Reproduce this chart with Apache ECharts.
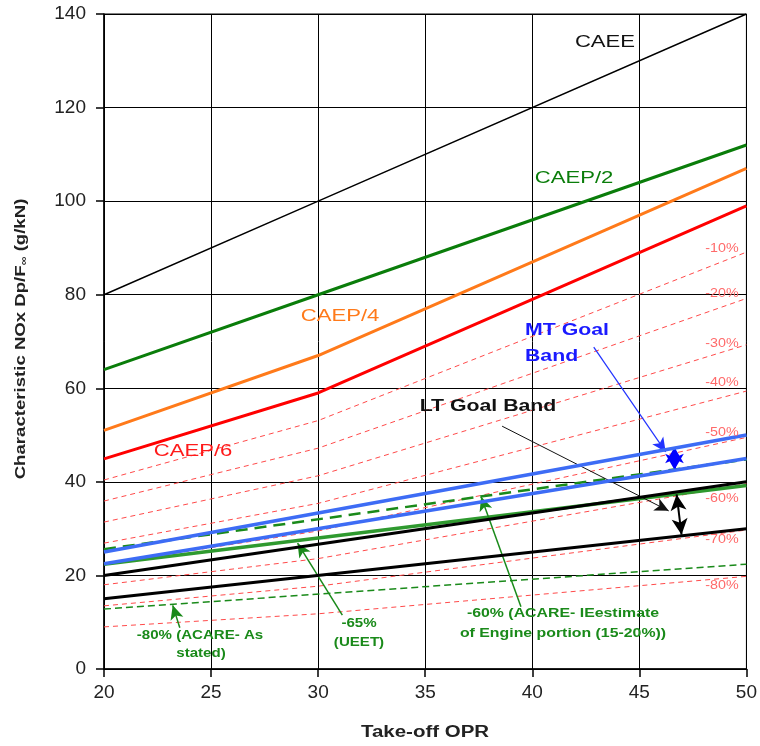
<!DOCTYPE html>
<html>
<head>
<meta charset="utf-8">
<script src="https://cdn.jsdelivr.net/npm/echarts@6/dist/echarts.min.js"></script>
<style>html,body{margin:0;padding:0;background:#fff;}#c{width:760px;height:746px;}</style>
</head>
<body>
<div id="c"></div>
<script>
// ---- data ----
const oprKnots = [20, 30, 50];
const oprEnds = [20, 50];
const xTicks = [20, 25, 30, 35, 40, 45, 50];
const yTicks = [0, 20, 40, 60, 80, 100, 120, 140];

const caee  = [80, 100, 140];
const caep2 = [64, 80, 112];
const caep4 = [51, 67, 107];
const caep6 = [44.9, 59.0, 99.0];

const reductionNames = ['-10%', '-20%', '-30%', '-40%', '-50%', '-60%', '-70%', '-80%'];
const red10 = [40.4, 53.1, 89.1];
const red20 = [35.9, 47.2, 79.2];
const red30 = [31.4, 41.3, 69.3];
const red40 = [26.9, 35.4, 59.4];
const red50 = [22.4, 29.5, 49.5];
const red60 = [18.0, 23.6, 39.6];
const red70 = [13.5, 17.7, 29.7];
const red80 = [9.0, 11.8, 19.8];

const mtUpper = [25, 50];
const mtLower = [22.5, 45];
const ltUpper = [20, 40];
const ltLower = [15, 30];
const ueet65  = [22.4, 39.2];
const acare60 = [25.6, 44.8];
const acare80 = [12.8, 22.4];

// annotation arrows in data coordinates [x1,y1,x2,y2]
const arrowBlue   = [42.87, 68.8, 46.23, 46.4];
const arrowBlueDbl = [46.64, 47.4, 46.64, 42.6];
const arrowBlack  = [38.59, 51.9, 46.37, 33.8];
const arrowBlackDbl = [46.74, 37.3, 46.97, 28.7];
const arrowG80 = [23.54, 8.8, 23.21, 13.6];
const arrowG65 = [31.13, 11.5, 29.04, 26.9];
const arrowG60 = [39.47, 13.3, 37.61, 36.8];

function pts(xs, ys) { return xs.map((x, i) => [x, ys[i]]); }

const chart = echarts.init(document.getElementById('c'));
const FONT = '"Liberation Sans", Arial, sans-serif';

function lineSeries(name, xs, ys, color, width, type, z) {
  return {
    name, type: 'line', data: pts(xs, ys), symbol: 'none', z: z || 2,
    lineStyle: { color, width, type: type || 'solid' }, silent: true, animation: false
  };
}
function arrowSeries(a, color, width, dbl, size) {
  return {
    type: 'line', data: [], z: 10, silent: true, animation: false,
    markLine: {
      silent: true, animation: false,
      symbolSize: size || [9, 14],
      label: { show: false },
      lineStyle: { color, width, type: 'solid' },
      data: [[
        { coord: [a[0], a[1]], symbol: dbl ? 'arrow' : 'none' },
        { coord: [a[2], a[3]], symbol: 'arrow' }
      ]]
    }
  };
}

const redColor = '#ff4a4a';
const redDash = [5, 4];
const reds = [red10, red20, red30, red40, red50, red60, red70, red80];

const series = [];
reds.forEach((r, i) => series.push(lineSeries(reductionNames[i], oprKnots, r, redColor, 1, redDash, 1)));
series.push(lineSeries('CAEE', oprKnots, caee, '#000', 1.5, 'solid', 3));
series.push(lineSeries('CAEP/2', oprKnots, caep2, '#0a7d0a', 3, 'solid', 3));
series.push(lineSeries('CAEP/4', oprKnots, caep4, '#ff7a1a', 3, 'solid', 3));
series.push(lineSeries('CAEP/6', oprKnots, caep6, '#ff0000', 3, 'solid', 3));
series.push(lineSeries('-80% ACARE', oprEnds, acare80, '#1a8a1a', 1.5, [7, 4], 3));
series.push(lineSeries('-60% ACARE', oprEnds, acare60, '#1a8a1a', 2.5, [12, 7], 3));
series.push(lineSeries('-65% UEET', oprEnds, ueet65, '#2f9a2f', 3.5, 'solid', 4));
series.push(lineSeries('MT upper', oprEnds, mtUpper, '#3d6cf5', 3.5, 'solid', 5));
series.push(lineSeries('MT lower', oprEnds, mtLower, '#3d6cf5', 3.5, 'solid', 5));
series.push(lineSeries('LT upper', oprEnds, ltUpper, '#000', 3, 'solid', 6));
series.push(lineSeries('LT lower', oprEnds, ltLower, '#000', 3, 'solid', 6));

series.push(arrowSeries(arrowBlue, '#2233ff', 1.2, false, [10, 14]));
series.push(arrowSeries(arrowBlueDbl, '#0000ff', 2, true, [14, 16]));
series.push(arrowSeries(arrowBlack, '#111', 1, false, [10, 14]));
series.push(arrowSeries(arrowBlackDbl, '#000', 2, true, [12, 16]));
series.push(arrowSeries(arrowG80, '#1a8a1a', 1.5, false, [10, 14]));
series.push(arrowSeries(arrowG65, '#1a8a1a', 1.5, false, [10, 14]));
series.push(arrowSeries(arrowG60, '#1a8a1a', 1.5, false, [10, 14]));

const graphics = [];
function txt(t, x, y, color, font, align, sx, rot) {
  graphics.push({ type: 'text', x, y, z: 20, scaleX: sx || 1, rotation: rot || 0,
    style: { text: t, fill: color, font: font + ' ' + FONT, textAlign: align || 'center', textVerticalAlign: 'middle' } });
}
// percentage labels (pixel positions near right edge)
const pctLabelY = [248, 293, 343, 382, 432, 498, 539, 585];
reductionNames.forEach((t, i) => txt(t, 722, pctLabelY[i], '#ff6a6a', '13px', 'center', 1.1));

txt('CAEE', 605, 42, '#111', '17px', 'center', 1.3);
txt('CAEP/2', 574, 178, '#0a7d0a', '17px', 'center', 1.3);
txt('CAEP/4', 340, 316, '#ff7a1a', '17px', 'center', 1.3);
txt('CAEP/6', 193, 451, '#ff1a1a', '17px', 'center', 1.3);
txt('MT Goal', 525, 331, '#1a1aff', 'bold 16px', 'left', 1.33);
txt('Band', 525, 357, '#1a1aff', 'bold 16px', 'left', 1.33);
txt('LT Goal Band', 488, 407, '#111', 'bold 16px', 'center', 1.33);
txt('-80% (ACARE- As', 200, 635, '#1a8a1a', 'bold 13px', 'center', 1.16);
txt('stated)', 201, 653, '#1a8a1a', 'bold 13px', 'center', 1.16);
txt('-65%', 359, 623, '#1a8a1a', 'bold 13px', 'center', 1.16);
txt('(UEET)', 359, 642, '#1a8a1a', 'bold 13px', 'center', 1.16);
txt('-60% (ACARE- IEestimate', 563, 613, '#1a8a1a', 'bold 13px', 'center', 1.22);
txt('of Engine portion (15-20%))', 563, 633, '#1a8a1a', 'bold 13px', 'center', 1.22);
// axis titles
txt('Take-off OPR', 425, 733, '#222', 'bold 16px', 'center', 1.28);
graphics.push({ type: 'text', x: 21, y: 339, z: 20, rotation: Math.PI / 2, scaleX: 1.24,
  style: { text: '{a|Characteristic NOx Dp/F}{s|∞}{a| (g/kN)}', textAlign: 'center', textVerticalAlign: 'middle',
    rich: {
      a: { fontFamily: FONT, fontWeight: 'bold', fontSize: 15, fill: '#222', color: '#222' },
      s: { fontFamily: FONT, fontWeight: 'bold', fontSize: 10, fill: '#222', color: '#222', padding: [7, 0, 0, 0] }
    } } });

const option = {
  animation: false,
  backgroundColor: '#fff',
  grid: { left: 104, right: 12, top: 14, bottom: 77, show: true, borderColor: '#000', borderWidth: 1, containLabel: false },
  xAxis: {
    type: 'value', min: xTicks[0], max: xTicks[xTicks.length - 1], interval: 5,
    axisLine: { show: true, lineStyle: { color: '#000', width: 1.5 } },
    axisTick: { show: true, length: 8, lineStyle: { color: '#000', width: 1.5 } },
    axisLabel: { fontFamily: FONT, fontSize: 19, color: '#222', margin: 14 },
    splitLine: { show: true, lineStyle: { color: '#000', width: 1 } }
  },
  yAxis: {
    type: 'value', min: yTicks[0], max: yTicks[yTicks.length - 1], interval: 20,
    axisLine: { show: true, lineStyle: { color: '#000', width: 1.5 } },
    axisTick: { show: true, length: 8, lineStyle: { color: '#000', width: 1.5 } },
    axisLabel: { fontFamily: FONT, fontSize: 19, color: '#222', margin: 18 },
    splitLine: { show: true, lineStyle: { color: '#000', width: 1 } }
  },
  graphic: graphics,
  series
};
chart.setOption(option);
</script>
</body>
</html>
